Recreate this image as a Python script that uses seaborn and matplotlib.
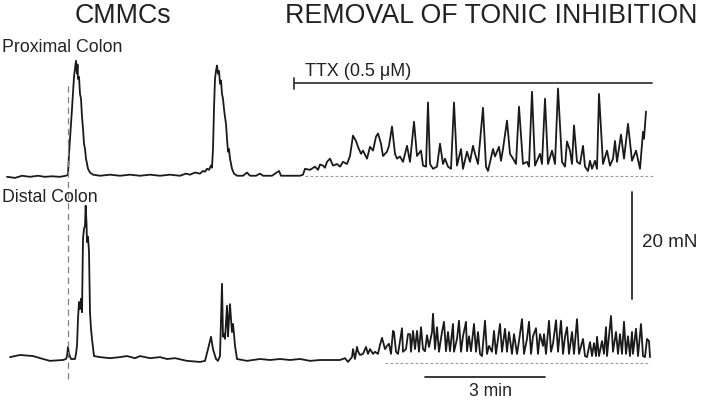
import matplotlib
matplotlib.use("Agg")
import matplotlib.pyplot as plt
import seaborn as sns
import pandas as pd

# ---------------- data: (time in s, force in mN above baseline) ----------------
prox_cmmc1 = [(-1.5, -0.2), (10.5, -0.4), (21, 0), (33, -0.2), (45, 0), (55.5, -0.2), (66, -0.1),
              (78, -0.2), (87, 0), (90, 0.2), (91.5, 4.1), (93, 6.9), (96, 12.5), (99, 18.5),
              (100.5, 20.0), (102, 21.5), (103.5, 19.1), (104.3, 20.8), (105, 18.1), (106.5, 18.5),
              (108, 15.3), (109.5, 14.4), (111, 11.0), (112.5, 8.8), (114, 6.0), (115.5, 5.0),
              (117, 3.2), (120, 1.3), (123, 0.6), (127.5, 0.2), (138, 0), (153, 0.2), (168, 0),
              (183, 0.2), (198, 0), (213, 0.2), (228, 0), (243, 0.2), (258, 0), (267, 0.4),
              (273, 0.2), (280.5, 0.6), (288, 0.4)]
prox_cmmc2 = [(292.5, 0.9), (295.5, 0.75), (298.5, 1.3), (301.5, 1.1), (304.5, 1.9), (306, 1.5),
              (307.5, 5.0), (309, 12.5), (310.5, 18.1), (312, 19.6), (313.5, 20.6), (315, 19.1),
              (316.5, 19.6), (318, 17.2), (319.5, 17.8), (321, 15.3), (322.5, 14.4), (324, 12.5),
              (325.5, 11.0), (327, 9.7), (328.5, 6.9), (330, 4.5), (331.5, 5.0), (333, 3.2),
              (336, 1.3), (339, 0.4), (343.5, 0), (352.5, 0), (358.5, 0.6), (363, 0), (372, 0),
              (378, 0.4), (382.5, 0), (396, 0), (406.5, 0.9), (409.5, 0), (423, 0), (438, 0),
              (442.5, 0.2)]
prox_ttx = [(445.5, 1.3), (453, 1.1), (460.5, 1.7), (465, 1.1), (468, 2.1), (472.5, 1.9), (475.5, 1.5),
            (478.5, 2.6), (483, 3.2), (487.5, 1.9), (493.5, 2.2), (498, 1.7), (502.5, 2.6),
            (508.5, 2.2), (513, 3.7), (517.5, 7.5), (522, 6.5), (525, 5.4), (529.5, 4.1),
            (532.5, 4.7), (538.5, 3.2), (543, 5.4), (547.5, 4.7), (552, 7.3), (555, 7.9),
            (559.5, 6.0), (562.5, 3.7), (568.5, 4.5), (571.5, 5.6), (576, 9.2), (580.5, 4.1),
            (583.5, 3.2), (588, 3.6), (592.5, 2.6), (598.5, 5.6), (603, 2.6), (609, 10.1),
            (613.5, 3.7), (619.5, 4.7), (622.5, 1.9), (627, 1.7), (630, 13.7), (633, 2.2),
            (637.5, 1.3), (643.5, 1.7), (648, 6.0), (652.5, 2.2), (655.5, 3.2), (660, 1.7),
            (664.5, 1.3), (669, 13.7), (673.5, 1.9), (679.5, 5.0), (682.5, 1.3), (688.5, 4.5),
            (693, 2.6), (697.5, 5.6), (700.5, 4.1), (705, 2.2), (712.5, 12.7), (717, 1.7),
            (720, 0.9), (727.5, 5.0), (730.5, 3.6), (736.5, 5.4), (739.5, 2.8), (742.5, 5.0),
            (748.5, 10.3), (753, 4.1), (757.5, 3.2), (762, 2.2), (766.5, 12.9), (772.5, 2.2),
            (778.5, 2.6), (781.5, 1.7), (786, 15.7), (790.5, 1.9), (798, 4.1), (801, 2.2),
            (805.5, 14.4), (810, 2.2), (816, 4.7), (820.5, 2.2), (825, 16.3), (831, 2.6),
            (835.5, 1.7), (838.5, 6.4), (843, 4.7), (846, 2.2), (849, 9.4), (853.5, 2.6),
            (858, 2.2), (862.5, 5.6), (865.5, 1.7), (870, 0.9), (873, 2.8), (876, 1.3),
            (880.5, 2.8), (883.5, 1.3), (886.5, 15.3), (892.5, 2.2), (898.5, 4.7), (903, 1.9),
            (907.5, 3.2), (910.5, 6.5), (913.5, 2.6), (919.5, 7.7), (924, 3.2), (930, 9.7),
            (936, 2.8), (942, 4.7), (948, 1.3), (952.5, 8.2), (954, 6.9), (957, 12.0)]

dist_cmmc = [(3, 1.1), (18, 1.5), (37.5, 1.3), (52.5, 0.75), (63, 0.4), (82.5, 0.56), (87, 0.75),
             (88.5, 1.3), (90, 3.0), (91.5, 1.7), (94.5, 0.75), (100.5, 0.75), (102, 1.7),
             (103.5, 3.2), (105, 8.2), (106.5, 11.4), (108, 10.1), (109.5, 12.0), (111, 9.5),
             (112.5, 23.2), (114, 25.1), (115.5, 25.6), (116.5, 29.4), (117.8, 26.0), (118.5, 22.6),
             (120, 23.6), (121.5, 20.8), (123, 9.5), (124.5, 6.4), (126, 4.5), (129, 1.3),
             (138, 1.1), (153, 0.9), (168, 1.1), (178.5, 1.3), (190.5, 0.9), (198, 1.3),
             (213, 0.9), (228, 1.1), (238.5, 0.75), (250.5, 0.9), (268.5, 0.4), (288, 0.2),
             (295.5, 0.4), (300, 2.6), (304.5, 4.9), (307.5, 2.6), (312, 0.75), (315, 0.4),
             (318, 1.3), (319.5, 8.2), (321, 14.8), (322.5, 4.9), (324, 5.4), (325.5, 4.5),
             (328.5, 10.7), (330, 5.0), (331.5, 8.2), (333, 11.0), (334.5, 8.2), (336, 5.8),
             (337.5, 7.3), (339, 5.4), (340.5, 3.2), (343.5, 0.75), (358.5, 0.4), (378, 0.75),
             (393, 0.56), (408, 0.75), (423, 0.56), (438, 0.75), (453, 0.4), (468, 0.56),
             (483, 0.56), (498, 0.56), (505.5, 0.9), (510, 0.2)]
dist_ttx = [(516, 1.1), (517.5, 2.6), (520.5, 0.75), (523.5, 3.0), (525, 2.2), (528, 1.5),
            (532.5, 1.7), (537, 3.0), (540, 1.7), (543, 2.6), (547.5, 1.7), (550.5, 2.1),
            (555, 1.7), (558, 3.4), (561, 4.7), (565.5, 2.6), (568.5, 3.2), (571.5, 3.6),
            (574.5, 1.7), (577.5, 6.0), (579, 5.8), (582, 2.1), (585, 1.7), (591, 6.5),
            (592.5, 2.1), (597, 2.6), (600, 5.4), (603, 5.4), (604.5, 2.1), (607.5, 6.0),
            (610.5, 2.6), (613.5, 6.0), (616.5, 2.1), (619.5, 6.7), (622.5, 2.6), (625.5, 2.2),
            (628.5, 5.2), (631.5, 3.0), (636, 5.8), (637.5, 9.2), (640.5, 2.6), (643.5, 6.7),
            (646.5, 2.1), (651, 5.8), (654, 7.7), (657, 2.2), (660, 5.8), (663, 2.2), (667.5, 7.3),
            (669, 2.1), (673.5, 4.5), (676.5, 7.9), (679.5, 2.1), (682.5, 5.0), (687, 7.7),
            (688.5, 2.2), (691.5, 5.0), (694.5, 2.2), (699, 7.3), (702, 2.1), (705, 5.8),
            (708, 1.7), (711, 1.3), (715.5, 7.9), (718.5, 1.7), (721.5, 3.2), (726, 2.1),
            (729, 6.0), (732, 1.7), (738, 7.3), (741, 2.1), (745.5, 6.4), (748.5, 2.1),
            (751.5, 5.8), (756, 1.7), (759, 5.4), (763.5, 1.7), (766.5, 4.1), (771, 8.2),
            (774, 1.7), (778.5, 4.5), (781.5, 7.7), (784.5, 1.7), (787.5, 5.0), (792, 6.5),
            (795, 1.7), (798, 5.4), (802.5, 3.2), (804, 5.4), (807, 1.7), (811.5, 7.9),
            (814.5, 2.1), (817.5, 3.6), (822, 8.0), (825, 2.1), (829.5, 7.9), (832.5, 1.7),
            (835.5, 4.9), (838.5, 6.7), (841.5, 1.7), (846, 5.8), (849, 1.7), (853.5, 8.2),
            (856.5, 1.7), (862.5, 4.5), (865.5, 1.3), (868.5, 1.1), (873, 3.9), (876, 1.3),
            (879, 3.7), (882, 1.3), (883.5, 4.9), (886.5, 1.3), (891, 4.1), (894, 1.7),
            (897, 6.7), (898.5, 1.3), (901.5, 5.0), (904.5, 8.8), (907.5, 2.1), (912, 5.8),
            (915, 1.7), (918, 5.4), (921, 1.7), (924, 7.7), (927, 1.7), (930, 5.0), (933, 1.3),
            (936, 5.8), (937.5, 1.7), (942, 6.4), (945, 1.3), (949.5, 7.3), (952.5, 1.3),
            (955.5, 1.1), (958.5, 4.5), (961.5, 4.1), (963, 1.1)]

ttx_start_s, ttx_end_s = 429, 966
scale_time_s = 180        # 3 min
scale_force_mN = 20
prox_offset_mN = 35.0     # vertical separation of the two traces

# ---------------- build tidy frame ----------------
rows = []
for name, seg, off in [("Proximal", prox_cmmc1 + prox_cmmc2 + prox_ttx, prox_offset_mN),
                       ("Distal", dist_cmmc + dist_ttx, 0.0)]:
    for t, f in seg:
        rows.append({"trace": name, "time_s": t, "force": f + off})
df = pd.DataFrame(rows)

sns.set_style("white")
plt.rcParams["font.family"] = ["Liberation Sans", "DejaVu Sans"]

W, H = 705, 402
fig = plt.figure(figsize=(W / 100, H / 100), dpi=100)
ax = fig.add_axes([0, 0, 1, 1])

sns.lineplot(data=df, x="time_s", y="force", units="trace", estimator=None, sort=False,
             color="#1a1a1a", linewidth=1.3, ax=ax, legend=False)

px_per_mN = 5.35
ax.set_xlim(-8 * 1.5, (W - 8) * 1.5)
ax.set_ylim(-(H - 364) / px_per_mN, 364 / px_per_mN)
ax.set_axis_off()

# dashed vertical marker at CMMC onset
ax.plot([90, 90], [-3.0, 52.5], color="#808080", lw=0.9, dashes=(5, 3.5))
# dashed baselines
ax.plot([445.5, 970.5], [prox_offset_mN, prox_offset_mN], color="#9a9a9a", lw=0.8, dashes=(2.5, 2))
ax.plot([565.5, 960], [0, 0], color="#9a9a9a", lw=0.8, dashes=(2.5, 2))

# TTX bar
ax.plot([ttx_start_s, ttx_end_s], [52.3, 52.3], color="#3a3a3a", lw=1.3)
ax.plot([ttx_start_s, ttx_start_s], [51.3, 53.3], color="#3a3a3a", lw=1.3)
ax.text(445.5, 54.6, "TTX (0.5 μM)", fontsize=13, va="center", ha="left", color="#222222")

# scale bars
ax.plot([936, 936], [12.0, 12.0 + scale_force_mN], color="#2a2a2a", lw=1.3)
ax.text(951, 22.7, "20 mN", fontsize=13.5, va="center", ha="left", color="#222222")
ax.plot([625, 625 + scale_time_s], [-2.6, -2.6], color="#2a2a2a", lw=1.3)
ax.text(724, -5.1, "3 min", fontsize=12.7, va="center", ha="center", color="#222222")

# titles and labels
fig.text(122.5 / W, 1 - 16 / H, "CMMCs", fontsize=19.3, ha="center", va="center", color="#222222")
fig.text(491.5 / W, 1 - 16 / H, "REMOVAL OF TONIC INHIBITION", fontsize=19.3, ha="center",
         va="center", color="#222222")
fig.text(2 / W, 1 - 47 / H, "Proximal Colon", fontsize=12.8, ha="left", va="center", color="#222222")
fig.text(2 / W, 1 - 197 / H, "Distal Colon", fontsize=12.8, ha="left", va="center", color="#222222")

fig.savefig("out.png", dpi=100)
